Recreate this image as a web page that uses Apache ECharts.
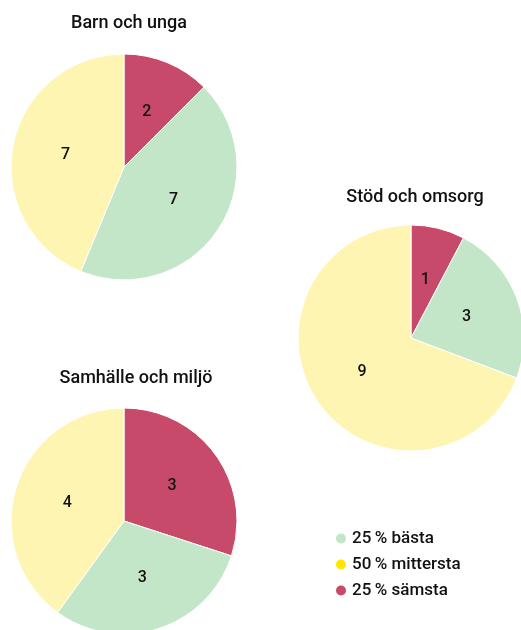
<!DOCTYPE html>
<html>
<head>
<meta charset="utf-8">
<script src="https://cdn.jsdelivr.net/npm/echarts@6/dist/echarts.min.js"></script>
<style>
  html, body { margin: 0; padding: 0; background: #fff; }
  #chart { width: 521px; height: 630px; }
</style>
</head>
<body>
<div id="chart"></div>
<script>
// kategorier (ordning: sämsta först, medurs från kl 12)
var categories = ['25\u2009% sämsta', '25\u2009% bästa', '50\u2009% mittersta'];
var legendOrder = ['25\u2009% bästa', '50\u2009% mittersta', '25\u2009% sämsta'];

var titles = ['Barn och unga', 'Stöd och omsorg', 'Samhälle och miljö'];
var barnUnga = [2, 7, 7];
var stodOmsorg = [1, 3, 9];
var samhalleMiljo = [3, 3, 4];

var sliceColors = {};
sliceColors[categories[0]] = '#C84A6B';
sliceColors[categories[1]] = '#C3E5C8';
sliceColors[categories[2]] = '#FFF5B3';
var legendColors = {};
legendColors[categories[0]] = '#C84A6B';
legendColors[categories[1]] = '#C3E5C8';
legendColors[categories[2]] = '#FFE500';

var font = 'Roboto, "Open Sans", sans-serif';

function makePie(values, center) {
    return {
        type: 'pie',
        radius: 113,
        center: center,
        startAngle: 90,
        clockwise: true,
        silent: true,
        itemStyle: { borderColor: '#fff', borderWidth: 1 },
        label: {
            position: 'inside',
            formatter: '{c}',
            color: '#111',
            fontSize: 16,
            fontWeight: 500,
            fontFamily: font
        },
        labelLine: { show: false },
        data: categories.map(function (c, i) {
            return { name: c, value: values[i], itemStyle: { color: sliceColors[c] } };
        })
    };
}

var chart = echarts.init(document.getElementById('chart'));
chart.setOption({
    animation: false,
    title: [
        { text: titles[0], left: 124, top: 9, textAlign: 'center' },
        { text: titles[1], left: 410, top: 183, textAlign: 'center' },
        { text: titles[2], left: 131, top: 364, textAlign: 'center' }
    ].map(function (t) {
        t.textStyle = { fontSize: 18, fontWeight: 500, color: '#111', fontFamily: font };
        return t;
    }),
    legend: {
        orient: 'vertical',
        left: 329,
        top: 525,
        itemGap: 9,
        itemWidth: 12,
        itemHeight: 12,
        icon: 'circle',
        selectedMode: false,
        textStyle: { fontSize: 17, fontWeight: 500, color: '#111', fontFamily: font },
        data: legendOrder.map(function (n) {
            return { name: n, itemStyle: { color: legendColors[n] } };
        })
    },
    series: [
        makePie(barnUnga, [124, 167]),
        makePie(stodOmsorg, [411, 338]),
        makePie(samhalleMiljo, [124, 521])
    ]
});
</script>
</body>
</html>
